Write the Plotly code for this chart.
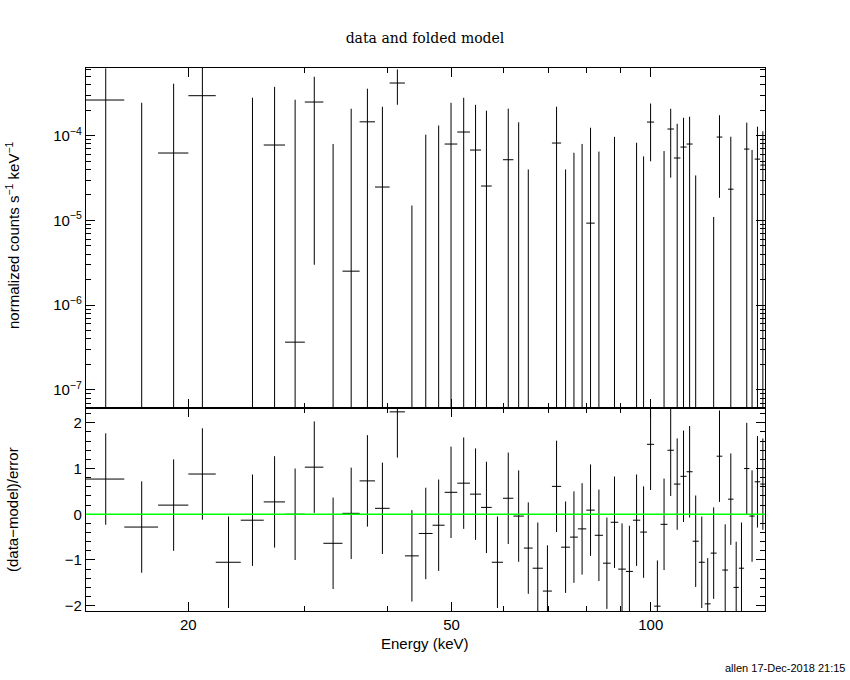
import plotly.graph_objects as go
from plotly.subplots import make_subplots

# ---------------- data ----------------
E_LO = [14.0, 16.0, 18.0, 20.0, 22.0, 24.0, 26.0, 28.0, 30.0, 32.0,
        34.2, 36.3, 38.3, 40.3, 42.5, 44.6, 46.8, 48.8, 51.0, 53.3,
        55.4, 57.5, 59.8, 62.0, 64.3, 66.3, 68.7, 70.9, 73.2, 75.5,
        77.6, 79.9, 82.3, 84.7, 87.0, 89.3, 91.7, 94.0, 96.4, 98.7,
        101.2, 103.5, 106.0, 108.4, 110.9, 113.3, 115.7, 118.2, 120.7, 123.2,
        125.8, 128.3, 130.9, 133.4, 135.9, 138.4, 141.0, 143.6, 146.4]
E_HI = [16.0, 18.0, 20.0, 22.0, 24.0, 26.0, 28.0, 30.0, 32.0, 34.2,
        36.3, 38.3, 40.3, 42.5, 44.6, 46.8, 48.8, 51.0, 53.3, 55.4,
        57.5, 59.8, 62.0, 64.3, 66.3, 68.7, 70.9, 73.2, 75.5, 77.6,
        79.9, 82.3, 84.7, 87.0, 89.3, 91.7, 94.0, 96.4, 98.7, 101.2,
        103.5, 106.0, 108.4, 110.9, 113.3, 115.7, 118.2, 120.7, 123.2, 125.8,
        128.3, 130.9, 133.4, 135.9, 138.4, 141.0, 143.6, 146.4, 149.1]

# normalized counts s^-1 keV^-1 and 1-sigma errors
RATE = [2.64e-4, -9.5e-5, 6.25e-5, 2.97e-4, -3.47e-4, -4.2e-5, 7.77e-5, 3.66e-7, 2.5e-4, -1.4e-4,
        2.52e-6, 1.46e-4, 2.48e-5, 4.19e-4, -1.51e-4, -7.5e-5, -4.1e-5, 7.98e-5, 1.106e-4, 6.78e-5,
        2.55e-5, -1.68e-4, 5.21e-5, -6e-6, -1.14e-4, -1.71e-4, -2.35e-4, 8.2e-5, -1.03e-4, -6.3e-5,
        -3.8e-5, 9.3e-6, -5.5e-5, -1.23e-4, -2.1e-5, -1.32e-4, -1.31e-4, -1.24e-5, -3.6e-5, 1.45e-4,
        -1.9e-4, -1.9e-5, 1.2e-4, 5.46e-5, 7.35e-5, 7.98e-5, -4.8e-5, -8.4e-5, -1.57e-4, -6.1e-5,
        9.65e-5, -9.2e-5, 2.34e-5, -1.17e-4, -8.5e-5, 6.96e-5, -3e-6, 5.3e-5, 4.5e-5]
RATE_ERR = [3.6e-4, 3.4e-4, 3.49e-4, 3.37e-4, 3.3e-4, 3.23e-4, 3.0e-4, 2.66e-4, 2.47e-4, 2.2e-4,
            2.06e-4, 2.13e-4, 1.95e-4, 1.87e-4, 1.66e-4, 1.78e-4, 1.73e-4, 1.65e-4, 1.70e-4, 1.64e-4,
            1.72e-4, 1.6e-4, 1.57e-4, 1.5e-4, 1.54e-4, 1.45e-4, 1.4e-4, 1.38e-4, 1.43e-4, 1.26e-4,
            1.18e-4, 1.15e-4, 1.2e-4, 1.15e-4, 1.18e-4, 1.1e-4, 1.05e-4, 9.5e-5, 9.3e-5, 9.5e-5,
            9.5e-5, 8.5e-5, 8.8e-5, 8.4e-5, 8.95e-5, 8.8e-5, 8.2e-5, 8.0e-5, 8.0e-5, 7.2e-5,
            7.8e-5, 7.5e-5, 7.4e-5, 7.3e-5, 7.2e-5, 7.3e-5, 7.1e-5, 7.5e-5, 6.8e-5]

# (data-model)/error ; each residual has a unit error bar
RESID = [0.77, -0.28, 0.20, 0.88, -1.05, -0.13, 0.27, 0.0, 1.03, -0.635,
         0.02, 0.73, 0.13, 2.24, -0.91, -0.42, -0.24, 0.48, 0.68, 0.44,
         0.15, -1.05, 0.35, -0.04, -0.74, -1.18, -1.68, 0.61, -0.72, -0.50,
         -0.32, 0.09, -0.46, -1.07, -0.175, -1.2, -1.25, -0.13, -0.39, 1.53,
         -2.01, -0.22, 1.40, 0.66, 0.83, 0.93, -0.59, -1.05, -1.96, -0.85,
         1.27, -1.22, 0.33, -1.6, -1.18, 1.0, -0.04, 0.71, 0.66]
RESID_ERR = 1.0

X_TICKS = [20, 50, 100]
X_MINOR = [30, 40, 60, 70, 80, 90]
Y_TICKS = [1e-7, 1e-6, 1e-5, 1e-4]
Y_TICKTEXT = ["10<sup>\u22127</sup>", "10<sup>\u22126</sup>", "10<sup>\u22125</sup>", "10<sup>\u22124</sup>"]
R_TICKS = [-2, -1, 0, 1, 2]
R_TICKTEXT = ["\u22122", "\u22121", "0", "1", "2"]

TITLE = "data and folded model"
XLABEL = "Energy (keV)"
YLABEL_TOP = "normalized counts s<sup>\u22121</sup> keV<sup>\u22121</sup>"
YLABEL_BOT = "(data\u2212model)/error"
STAMP = "allen 17-Dec-2018 21:15"

# ---------------- build segments ----------------
FLOOR = 1e-14  # stand-in for non-positive ends on the log axis (off-scale)

tx, ty = [], []
rx, ry = [], []
for lo, hi, d, s, r in zip(E_LO, E_HI, RATE, RATE_ERR, RESID):
    c = 0.5 * (lo + hi)
    if d > 0:
        tx += [lo, hi, None]
        ty += [d, d, None]
    top = d + s
    if top > 0:
        tx += [c, c, None]
        ty += [max(d - s, FLOOR), top, None]
    rx += [lo, hi, None, c, c, None]
    ry += [r, r, None, r - RESID_ERR, r + RESID_ERR, None]

fig = make_subplots(rows=2, cols=1, shared_xaxes=True, vertical_spacing=0,
                    row_heights=[0.6265, 0.3735])

fig.add_trace(go.Scatter(x=tx, y=ty, mode="lines", line=dict(color="black", width=1),
                         hoverinfo="skip", showlegend=False), row=1, col=1)
fig.add_trace(go.Scatter(x=rx, y=ry, mode="lines", line=dict(color="black", width=1),
                         hoverinfo="skip", showlegend=False), row=2, col=1)
fig.add_hline(y=0, line=dict(color="#00ff00", width=1.3), row=2, col=1)

FONT = "Liberation Sans, Arial, sans-serif"
FS = 15
axis_common = dict(showline=True, linecolor="black", linewidth=1.3, mirror="allticks",
                   ticks="inside", tickcolor="black", tickwidth=1, showgrid=False,
                   zeroline=False, tickfont=dict(family=FONT, size=FS, color="black"))

xrange = [1.14626, 2.17277]
fig.update_xaxes(type="log", range=xrange, tickmode="array", tickvals=X_TICKS,
                 ticktext=[str(v) for v in X_TICKS], ticklen=9,
                 minor=dict(tickmode="array", tickvals=X_MINOR, ticklen=5, ticks="inside",
                            tickcolor="black", showgrid=False),
                 **axis_common)
fig.update_xaxes(showticklabels=False, row=1, col=1)

y_minor = []
for dec in [1e-8, 1e-7, 1e-6, 1e-5, 1e-4]:
    for k in range(2, 10):
        y_minor.append(k * dec)
fig.update_yaxes(type="log", range=[-7.216, -3.2004], tickmode="array", tickvals=Y_TICKS,
                 ticktext=Y_TICKTEXT, ticklen=9,
                 minor=dict(tickmode="array", tickvals=y_minor, ticklen=5, ticks="inside",
                            tickcolor="black", showgrid=False),
                 row=1, col=1, **axis_common)
fig.update_yaxes(range=[-2.116, 2.32], tickmode="array", tickvals=R_TICKS, ticktext=R_TICKTEXT,
                 ticklen=9,
                 minor=dict(dtick=0.2, tick0=0, ticklen=5, ticks="inside", tickcolor="black",
                            showgrid=False),
                 row=2, col=1, **axis_common)

L, R, T, B = 86, 85, 68, 69
W, H = 850, 680
pw, ph = W - L - R, H - T - B

def px(x):
    return (x - L) / pw

def py(y):
    return (H - B - y) / ph

annots = [
    dict(text=XLABEL, x=px(425), y=py(643), font=dict(family=FONT, size=FS, color="black")),
    dict(text=YLABEL_TOP, x=px(12), y=py(235), textangle=-90,
         font=dict(family=FONT, size=FS, color="black")),
    dict(text=YLABEL_BOT, x=px(12), y=py(510), textangle=-90,
         font=dict(family=FONT, size=FS, color="black")),
    dict(text=STAMP, x=px(847), y=py(668), xanchor="right",
         font=dict(family=FONT, size=11, color="black")),
]
for a in annots:
    a.setdefault("xanchor", "center")
    a.update(xref="paper", yref="paper", yanchor="middle", showarrow=False)

fig.update_layout(
    width=W, height=H, autosize=False,
    margin=dict(l=L, r=R, t=T, b=B, pad=0),
    paper_bgcolor="white", plot_bgcolor="white",
    title=dict(text=TITLE, x=425 / W, xanchor="center",
               y=1 - 38 / H, yanchor="middle", yref="container",
               font=dict(family="DejaVu Serif, serif", size=14, color="black")),
    annotations=annots,
    showlegend=False,
)

fig.write_html("out.html", config={"displayModeBar": False},
               post_script="document.body.style.margin='0';document.body.style.padding='0';")
